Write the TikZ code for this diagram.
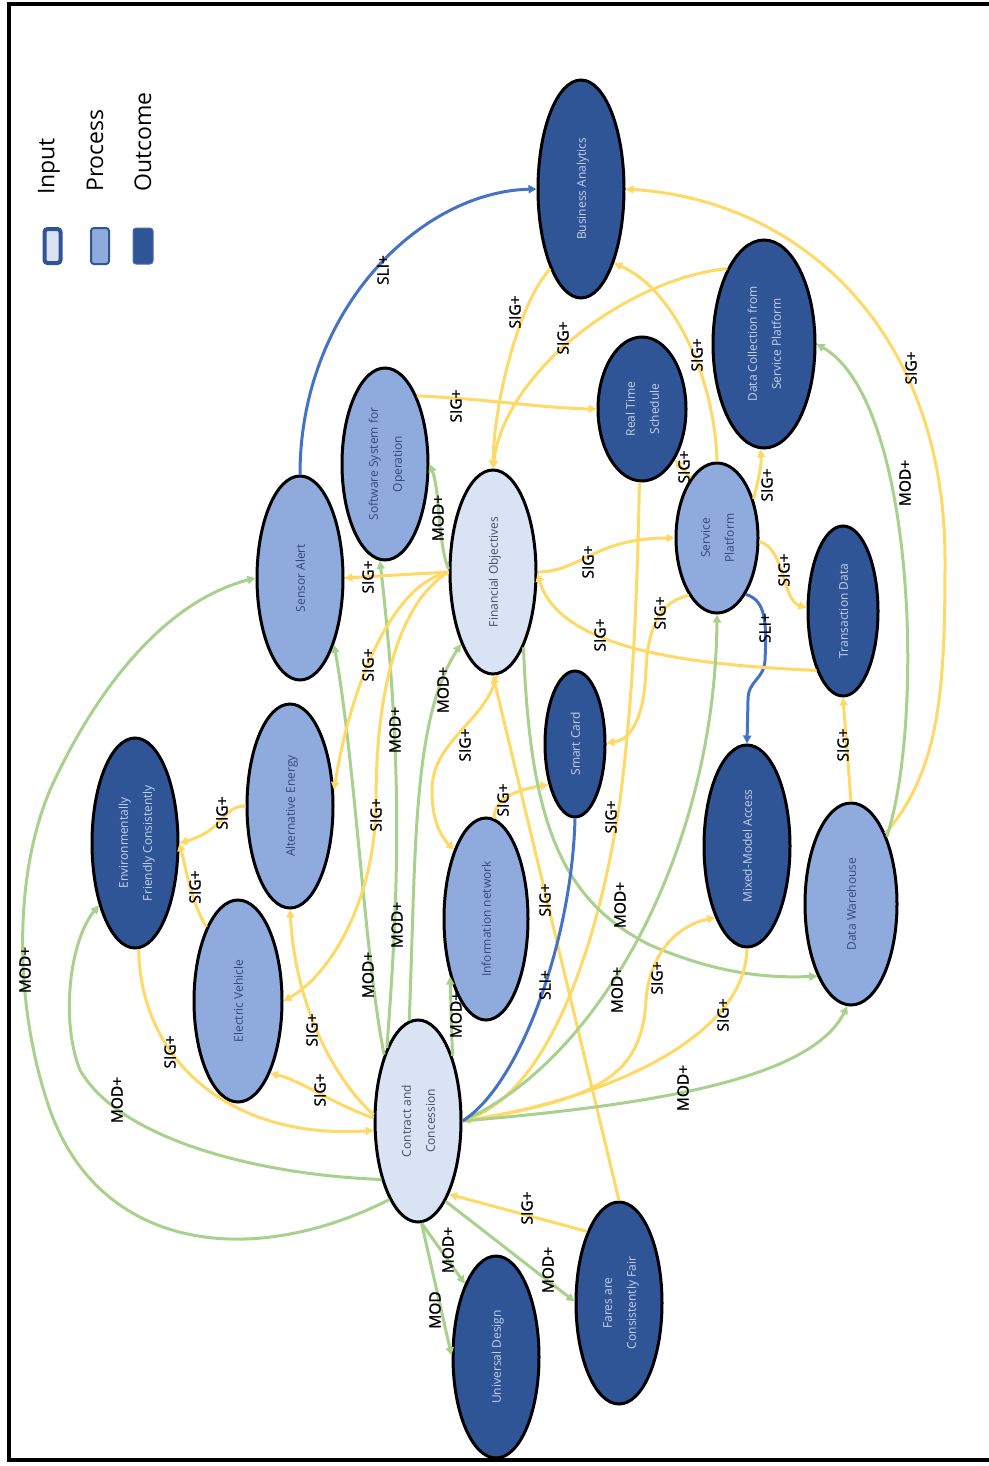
\documentclass[tikz,border=0pt]{standalone}
\usepackage{fontspec}
\setmainfont{Open Sans}
\newfontfamily\labfont{Open Sans}[FakeBold=1.2]
\usepackage{graphicx}
\usetikzlibrary{shapes.geometric,arrows.meta}
\definecolor{cOut}{HTML}{2F5597}
\definecolor{cProc}{HTML}{8FAADC}
\definecolor{cIn}{HTML}{DAE3F3}
\definecolor{cOutT}{HTML}{C5D3EC}
\definecolor{cProcT}{HTML}{2F4A7A}
\definecolor{cInT}{HTML}{404F68}
\definecolor{cY}{HTML}{FFD966}
\definecolor{cG}{HTML}{A9D18E}
\definecolor{cB}{HTML}{4472C4}
\newcommand{\ntext}[1]{\rotatebox{90}{\begin{tabular}{@{}c@{}}#1\end{tabular}}}
\tikzset{
  ell/.style={ellipse, draw=black, line width=3pt, inner sep=0pt,
    font=\fontsize{12}{24}\selectfont},
  outc/.style={ell, fill=cOut, text=cOutT},
  proc/.style={ell, fill=cProc, text=cProcT},
  inp/.style={ell, fill=cIn, text=cInT},
  ey/.style={draw=cY, line width=3pt},
  eg/.style={draw=cG, line width=3pt},
  eb/.style={draw=cB, line width=3pt},
  arr/.style={-{Triangle[length=8pt,width=8pt]}},
  lab/.style={rotate=90, inner sep=0pt, text=black, font=\labfont\fontsize{15.5}{18}\selectfont},
  legtext/.style={rotate=90, anchor=west, inner sep=0pt, font=\fontsize{23}{26}\selectfont},
  legbox/.style={rounded corners=3pt, minimum width=#1, minimum height=36, inner sep=0pt},
}
\begin{document}
\begin{tikzpicture}[x=1pt,y=-1pt]
\useasboundingbox (0,0) rectangle (988,1466);
\fill[white] (0,0) rectangle (988,1466);

% legend
\node[legbox=16, fill=cIn, draw=cOut, line width=4pt, minimum height=34] (lin) at (52.5,246) {};
\node[legbox=18, fill=cProc, draw=cOut, line width=2pt] (lpr) at (100,246) {};
\node[legbox=20, fill=cOut, draw=cOut!85, line width=1pt] (lou) at (143,246) {};
\node[legtext] (tin) at (49,195) {Input};
\node[legtext] (tpr) at (95,192) {Process};
\node[legtext] (tou) at (143,192) {Outcome};

% nodes
\node[outc, minimum width=86, minimum height=218] (ba) at (581,189) {\ntext{Business Analytics}};
\node[outc, minimum width=102, minimum height=208] (dc) at (764,344) {\ntext{Data Collection from\\Service Platform}};
\node[outc, minimum width=88, minimum height=144] (rts) at (642,409) {\ntext{Real Time\\Schedule}};
\node[proc, minimum width=86, minimum height=192] (sso) at (385,464) {\ntext{Software System for\\Operation}};
\node[proc, minimum width=86, minimum height=204] (sa) at (300,578) {\ntext{Sensor Alert}};
\node[inp, minimum width=86, minimum height=204] (fo) at (493,572) {\ntext{Financial Objectives}};
\node[proc, minimum width=82, minimum height=150] (sp) at (717,538) {\ntext{Service\\Platform}};
\node[outc, minimum width=70, minimum height=170] (td) at (843,611) {\ntext{Transaction Data}};
\node[proc, minimum width=86, minimum height=204] (ae) at (290,806) {\ntext{Alternative Energy}};
\node[outc, minimum width=86, minimum height=210] (ef) at (135,843) {\ntext{Environmentally\\Friendly Consistently}};
\node[outc, minimum width=60, minimum height=146] (sc) at (575,744) {\ntext{Smart Card}};
\node[proc, minimum width=84, minimum height=202] (inet) at (486,919) {\ntext{Information network}};
\node[outc, minimum width=86, minimum height=202] (mma) at (747,846) {\ntext{Mixed-Model Access}};
\node[proc, minimum width=92, minimum height=202] (dw) at (851,904) {\ntext{Data Warehouse}};
\node[proc, minimum width=88, minimum height=202] (ev) at (238,1001) {\ntext{Electric Vehicle}};
\node[inp, minimum width=86, minimum height=202] (cc) at (418,1121) {\ntext{Contract and\\Concession}};
\node[outc, minimum width=86, minimum height=202] (ud) at (496,1357) {\ntext{Universal Design}};
\node[outc, minimum width=86, minimum height=202] (fcf) at (619,1303) {\ntext{Fares are\\Consistently Fair}};

% connectors
\draw[eb,arr] (sa.90) .. controls (300,310) and (420,192) .. (ba.180) node[lab] at (383,270) {SLI+};
\draw[ey,arr] (ba.249) .. controls (520,300) and (494,400) .. (fo.90) node[lab] at (515,312) {SIG+};
\draw[ey,arr] (dc.116) .. controls (630,278) and (505,370) .. (fo.90) node[lab] at (563,338) {SIG+};
\draw[ey,arr] (sp.90) .. controls (715,380) and (675,290) .. (ba.294) node[lab] at (697,355) {SIG+};
\draw[ey,arr] (dw.64) .. controls (940,770) and (945,690) .. (945,560) .. controls (945,330) and (800,200) .. (ba.0) node[lab] at (911,368) {SIG+};
\draw[eg,arr] (dw.62) .. controls (925,720) and (915,400) .. (dc.0) node[lab] at (905,483) {MOD+};
\draw[ey,arr] (sso.65) .. controls (500,400) and (540,408) .. (rts.180) node[lab] at (456,406) {SIG+};
\draw[ey,arr] (sp.114) -- (rts.303) node[lab] at (684,467) {SIG+};
\draw[ey,arr] (sp.47) .. controls (757,485) and (762,465) .. (dc.268) node[lab] at (767,485) {SIG+};
\draw[ey,arr] (sp.355) .. controls (785,548) and (782,600) .. (td.175) node[lab] at (784,570) {SIG+};
\draw[eb,arr] (sp.297) .. controls (765,600) and (767,620) .. (765,660) .. controls (764,680) and (748,680) .. (748,700) -- (mma.90) node[lab] at (765,628) {SLI+};
\draw[ey,arr] (fo.0) .. controls (580,572) and (595,538) .. (sp.180) node[lab] at (588,562) {SIG+};
\draw[ey,arr] (td.246) .. controls (700,665) and (560,652) .. (fo.358) node[lab] at (600,635) {SIG+};
\draw[ey,arr] (sp.244) .. controls (665,600) and (648,620) .. (646,670) .. controls (644,720) and (630,740) .. (sc.2) node[lab] at (660,613) {SIG+};
\draw[ey,arr] (rts.268) .. controls (637,600) and (633,700) .. (620,800) .. controls (600,940) and (550,1090) .. (cc.0) node[lab] at (611,817) {SIG+};
\draw[ey,arr] (fo.272) .. controls (488,720) and (432,740) .. (432,790) .. controls (432,820) and (440,835) .. (inet.115) node[lab] at (465,745) {SIG+};
\draw[ey,arr] (inet.85) .. controls (492,800) and (515,790) .. (sc.237) node[lab] at (503,800) {SIG+};
\draw[ey,arr] (fcf.90) -- (fo.270) node[lab] at (545,900) {SIG+};
\draw[ey,arr] (fcf.114) -- (cc.293) node[lab] at (527,1208) {SIG+};
\draw[eg,arr] (cc.289) -- (fcf.178) node[lab] at (548,1270) {MOD+};
\draw[eg,arr] (cc.272) -- (ud.178) node[lab] at (435,1310) {MOD};
\draw[eg,arr] (cc.272) -- (ud.113) node[lab] at (448,1250) {MOD+};
\draw[eg,arr] (cc.238) .. controls (260,1175) and (120,1140) .. (80,1070) .. controls (60,1020) and (70,940) .. (ef.240) node[lab] at (117,1100) {MOD+};
\draw[eg,arr] (cc.250) .. controls (250,1270) and (100,1250) .. (50,1110) .. controls (15,1010) and (12,880) .. (50,790) .. controls (100,680) and (170,600) .. (sa.180) node[lab] at (25,970) {MOD+};
\draw[eg,arr] (cc.117) .. controls (365,960) and (355,760) .. (sa.297) node[lab] at (368,975) {MOD+};
\draw[eg,arr] (cc.113) .. controls (398,900) and (404,770) .. (sso.267) node[lab] at (395,730) {MOD+};
\draw[eg,arr] (cc.95) .. controls (416,850) and (412,720) .. (fo.246) node[lab] at (443,690) {MOD+} node[lab] at (397,925) {MOD+};
\draw[eg,arr] (cc.62) -- (inet.238) node[lab] at (456,1015) {MOD+};
\draw[eg,arr] (fo.292) .. controls (530,820) and (560,900) .. (650,945) .. controls (720,975) and (770,978) .. (dw.245) node[lab] at (620,905) {MOD+};
\draw[eg,arr] (cc.0) .. controls (600,1060) and (715,850) .. (sp.270) node[lab] at (617,990) {MOD+};
\draw[ey,arr] (cc.0) .. controls (600,1100) and (642,1075) .. (646,1000) .. controls (650,950) and (680,925) .. (mma.246) node[lab] at (657,978) {SIG+};
\draw[ey,arr] (mma.270) .. controls (745,1040) and (600,1100) .. (cc.0) node[lab] at (723,1015) {SIG+};
\draw[eg,arr] (cc.0) .. controls (650,1105) and (810,1080) .. (dw.268) node[lab] at (683,1088) {MOD+};
\draw[eb] (sc.270) .. controls (572,940) and (520,1085) .. (cc.0) node[lab] at (545,985) {SLI+};
\draw[ey,arr] (dw.90) -- (td.270) node[lab] at (843,745) {SIG+};
\draw[ey,arr] (cc.176) .. controls (335,1105) and (300,1080) .. (ev.294) node[lab] at (320,1090) {SIG+};
\draw[ey,arr] (cc.172) .. controls (330,1075) and (295,1000) .. (ae.270) node[lab] at (312,1030) {SIG+};
\draw[ey,arr] (ev.113) .. controls (192,905) and (185,865) .. (ef.0) node[lab] at (195,887) {SIG+};
\draw[ey,arr] (ae.180) .. controls (222,806) and (225,830) .. (ef.0) node[lab] at (222,813) {SIG+};
\draw[ey,arr] (ef.272) .. controls (140,1060) and (230,1140) .. (cc.192) node[lab] at (170,1052) {SIG+};
\draw[ey,arr] (fo.180) -- (sa.0) node[lab] at (368,577) {SIG+};
\draw[eg,arr] (fo.176) .. controls (438,545) and (440,490) .. (sso.0) node[lab] at (438,518) {MOD+};
\draw[ey,arr] (fo.180) .. controls (390,585) and (350,690) .. (ae.20) node[lab] at (368,665) {SIG+};
\draw[ey,arr] (fo.180) .. controls (395,605) and (376,700) .. (376,800) .. controls (376,900) and (330,975) .. (ev.0) node[lab] at (376,815) {SIG+};

% frame
\draw[line width=4.5pt, line join=miter] (995,4) -- (9,4) -- (9,1460) -- (995,1460);
\end{tikzpicture}
\end{document}
